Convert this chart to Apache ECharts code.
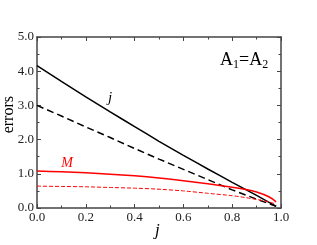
<!DOCTYPE html>
<html><head><meta charset="utf-8">
<script src="https://cdn.jsdelivr.net/npm/echarts@6/dist/echarts.min.js"></script>
<style>html,body{margin:0;padding:0;background:#fff}#c{width:317px;height:245px}</style>
</head><body><div id="c"></div>
<script>
const xVals = [0, 0.1, 0.2, 0.3, 0.4, 0.5, 0.6, 0.7, 0.8, 0.9, 0.98];
const jSolid = [4.16, 3.70, 3.25, 2.81, 2.38, 1.95, 1.54, 1.14, 0.75, 0.37, 0.05];
const jDashed = [3.00, 2.69, 2.37, 2.06, 1.74, 1.43, 1.13, 0.83, 0.53, 0.26, 0.05];
const xValsM = [0, 0.1, 0.2, 0.3, 0.4, 0.5, 0.6, 0.7, 0.8, 0.85, 0.9, 0.95, 0.98];
const mSolid = [1.08, 1.06, 1.03, 0.99, 0.94, 0.88, 0.80, 0.71, 0.61, 0.55, 0.47, 0.33, 0.18];
const mDashed = [0.64, 0.63, 0.62, 0.60, 0.58, 0.55, 0.50, 0.43, 0.36, 0.31, 0.25, 0.18, 0.11];
const xTicks = [0, 0.2, 0.4, 0.6, 0.8, 1.0];
const yTicks = [0, 1, 2, 3, 4, 5];

const pair = (xs, ys) => xs.map((x, i) => [x, ys[i]]);
const serif = 'Liberation Serif';
const axisColor = '#444';
const labelStyle = (show, margin) => ({ show: show, margin: margin, fontFamily: serif, fontSize: 13, color: '#222', formatter: v => v.toFixed(1) });
const baseAxis = (show, margin) => ({
  type: 'value',
  axisLine: { show: true, onZero: false, lineStyle: { color: axisColor, width: 1.5 } },
  axisTick: { show: true, inside: true, length: 4, lineStyle: { color: axisColor, width: 1 } },
  minorTick: { show: true, splitNumber: 2, length: 2.5, lineStyle: { color: axisColor, width: 1 } },
  splitLine: { show: false },
  axisLabel: labelStyle(show, margin)
});
const textMark = (coord, text, color, size) => ({
  symbol: 'circle', symbolSize: 1, itemStyle: { color: 'rgba(0,0,0,0)' }, silent: true,
  data: [{ coord: coord, label: { show: true, position: 'inside', formatter: text, fontFamily: serif, fontStyle: 'italic', fontSize: size, color: color } }]
});

const chart = echarts.init(document.getElementById('c'), null, { renderer: 'canvas' });
chart.setOption({
  animation: false,
  grid: { left: 37, right: 36, top: 37, bottom: 37 },
  xAxis: [
    Object.assign(baseAxis(true, 3), { min: xTicks[0], max: xTicks[xTicks.length - 1], interval: 0.2, position: 'bottom' }),
    Object.assign(baseAxis(false, 3), { min: 0, max: 1, interval: 0.2, position: 'top' })
  ],
  yAxis: [
    Object.assign(baseAxis(true, 3), { min: yTicks[0], max: yTicks[yTicks.length - 1], interval: 1, position: 'left' }),
    Object.assign(baseAxis(false, 3), { min: 0, max: 5, interval: 1, position: 'right' })
  ],
  graphic: [
    { type: 'text', left: 1, top: 96, rotation: Math.PI / 2, style: { text: 'errors', font: '16px "Liberation Serif"', fill: '#000' } },
    { type: 'text', left: 155, top: 222, style: { text: 'j', font: 'italic 17px "Liberation Serif"', fill: '#000' } },
    { type: 'text', left: 220, top: 50, style: {
        text: '{a|A}{s|1}{a|=A}{s|2}',
        rich: {
          a: { fontFamily: serif, fontSize: 18, fill: '#000', lineHeight: 18 },
          s: { fontFamily: serif, fontSize: 12, fill: '#000', padding: [9, 0, 0, 0], lineHeight: 18 }
        } } }
  ],
  series: [
    { type: 'line', data: pair(xVals, jSolid), symbol: 'none', smooth: 0.2, lineStyle: { color: '#000', width: 1.5 },
      markPoint: textMark([0.30, 3.22], 'j', '#000', 15) },
    { type: 'line', data: pair(xVals, jDashed), symbol: 'none', lineStyle: { color: '#000', width: 1.5, type: [7, 4] } },
    { type: 'line', data: pair(xValsM, mSolid), symbol: 'none', smooth: 0.2, lineStyle: { color: '#ff0000', width: 1.5 },
      markPoint: textMark([0.123, 1.32], 'M', '#ff0000', 14) },
    { type: 'line', data: pair(xValsM, mDashed), symbol: 'none', smooth: 0.2, lineStyle: { color: '#ff0000', width: 1, type: [4, 2] } }
  ]
});
</script></body></html>
